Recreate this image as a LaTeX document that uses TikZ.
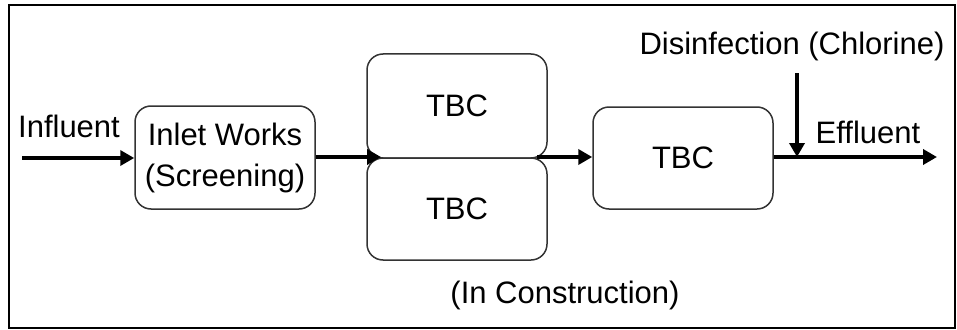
\documentclass[tikz,border=0pt]{standalone}
\usepackage{fontspec}
\setmainfont{Liberation Sans}
\usetikzlibrary{arrows.meta}
\begin{document}
\begin{tikzpicture}[x=1pt,y=-1pt,
  lbl/.style={font=\fontsize{31}{41}\selectfont, inner sep=0pt},
  unit/.style={draw=black!80, line width=1.5pt, rounded corners=16pt,
    minimum width=180pt, inner sep=0pt, align=center,
    font=\fontsize{31}{41}\selectfont},
  flow/.style={line width=4pt, -{Triangle[length=14pt,width=15pt]}},
  pipe/.style={line width=4pt}]
\useasboundingbox (0,0) rectangle (957,329);
\draw[line width=2pt] (8.5,5) rectangle (955,328);

% process units
\node[unit, minimum height=103pt] (inlet) at (225,157.5) {Inlet Works\\(Screening)};
\node[unit, minimum height=104pt] (tbcA) at (457,106) {TBC};
\node[unit, minimum height=102pt] (tbcB) at (457,209) {TBC};
\node[unit, minimum height=102pt] (tbcC) at (683,158) {TBC};

% labels
\node[lbl, anchor=base] (infl) at (69,137) {Influent};
\node[lbl, anchor=base] (disinf) at (792,55) {Disinfection (Chlorine)};
\node[lbl, anchor=base] (effl) at (868,143) {Effluent};
\node[lbl, anchor=base] (constr) at (565,303) {(In Construction)};

% flow path
\coordinate (src) at (22,158);
\coordinate (jin) at (381,157);
\coordinate (jout) at (537,157);
\coordinate (outlet) at (937,157);
\coordinate (dose) at (797,73);
\coordinate (mix) at (797,157);

\draw[flow] (src) -- (inlet.west |- src);
\draw[flow] (inlet.east |- jin) -- (jin);
\draw[flow] (jout) -- (tbcC.west |- jout);
\draw[flow] (tbcC.east |- outlet) -- (outlet);
\draw[flow] (dose) -- (mix);
\end{tikzpicture}
\end{document}
